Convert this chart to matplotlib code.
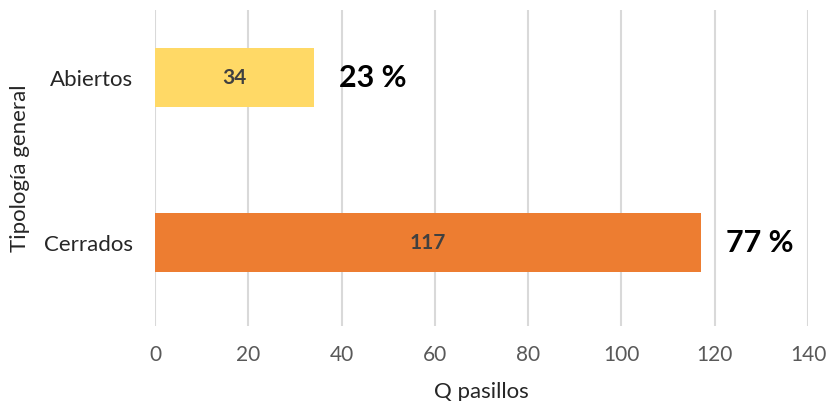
import matplotlib
matplotlib.use("Agg")
import matplotlib.pyplot as plt

categories = ["Cerrados", "Abiertos"]
values = [117, 34]
percents = ["77 %", "23 %"]
colors = ["#ED7D31", "#FFD966"]

plt.rcParams['font.family'] = ['Lato', 'DejaVu Sans']

fig = plt.figure(figsize=(8.26, 4.01), dpi=100)
ax = fig.add_axes([0.1877, 0.187, 0.7905, 0.788])

pos = range(len(categories))
bars = ax.barh(pos, values, height=0.357, color=colors, zorder=3)

for bar, v, p in zip(bars, values, percents):
    y = bar.get_y() + bar.get_height() / 2
    ax.text(v / 2, y, str(v), ha="center", va="center", fontsize=15,
            fontweight="bold", color="#404040", zorder=4)
    ax.annotate(p, xy=(v, y), xytext=(18, 0), textcoords="offset points",
                ha="left", va="center", fontsize=22, fontweight="bold", color="black")

ax.set_xlim(0, 140)
ax.set_ylim(-0.503, 1.41)
ax.set_xticks(range(0, 141, 20))
ax.set_yticks(list(pos))
ax.set_yticklabels(categories, fontsize=16, color="#262626")
ax.tick_params(axis="x", labelsize=15, labelcolor="#595959", length=0, pad=14)
ax.tick_params(axis="y", length=0, pad=16)

ax.grid(axis="x", color="#D9D9D9", linewidth=1.5, zorder=0)
for s in ax.spines.values():
    s.set_visible(False)

ax.set_xlabel("Q pasillos", fontsize=16, color="#262626", labelpad=12)
ax.set_ylabel("Tipología general", fontsize=16, color="#262626", labelpad=10)

fig.savefig("out.png", dpi=100)
